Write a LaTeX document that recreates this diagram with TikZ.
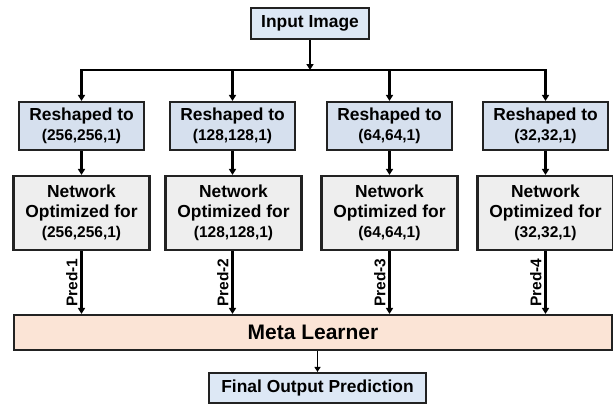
\documentclass[tikz,border=0pt]{standalone}
\usepackage{fontspec}
\setmainfont{Liberation Sans}
\usetikzlibrary{arrows.meta}
\definecolor{inblue}{HTML}{DDE8F5}
\definecolor{reblue}{HTML}{D6E0EE}
\definecolor{netgray}{HTML}{EEEEEE}
\definecolor{metapeach}{HTML}{FBE4D6}
\definecolor{edge}{HTML}{222222}
\newcommand{\numf}{\fontsize{15.5}{20}\selectfont}
\begin{document}
\begin{tikzpicture}[x=1pt,y=-1pt,
  box/.style={draw=edge,line width=2.1pt,align=center,inner sep=0pt,
    font=\bfseries\fontsize{17.4}{20}\selectfont},
  inbox/.style={box,fill=inblue},
  rebox/.style={box,fill=reblue,minimum width=125pt,minimum height=48pt},
  netbox/.style={box,fill=netgray,minimum width=136pt,minimum height=74pt},
  metabox/.style={box,fill=metapeach,font=\bfseries\fontsize{21}{24}\selectfont},
  arr/.style={line width=2.1pt,draw=black,-{Triangle[length=6pt,width=7pt]}},
  thinarr/.style={line width=1.3pt,draw=black,-{Triangle[length=5pt,width=6pt]}},
  predlab/.style={rotate=90,anchor=south,inner sep=3pt,font=\bfseries\fontsize{15.5}{17}\selectfont}
]
\useasboundingbox (0,0) rectangle (613,405);
\fill[white] (0,0) rectangle (613,405);

\node[inbox,minimum width=118pt,minimum height=31pt] (in) at (310,23.5) {Input Image};

\node[rebox] (r1) at (81.5,126) {Reshaped to\\{\numf (256,256,1)}};
\node[rebox] (r2) at (232.5,126) {Reshaped to\\{\numf (128,128,1)}};
\node[rebox] (r3) at (389.5,126) {Reshaped to\\{\numf (64,64,1)}};
\node[rebox] (r4) at (545.5,126) {Reshaped to\\{\numf (32,32,1)}};

\node[netbox] (n1) at (81.5,213) {Network\\Optimized for\\{\numf (256,256,1)}};
\node[netbox] (n2) at (233.5,213) {Network\\Optimized for\\{\numf (128,128,1)}};
\node[netbox] (n3) at (389.5,213) {Network\\Optimized for\\{\numf (64,64,1)}};
\node[netbox] (n4) at (545.5,213) {Network\\Optimized for\\{\numf (32,32,1)}};

\node[metabox,minimum width=598pt,minimum height=35pt] (meta) at (313,332.5) {Meta Learner};

\node[inbox,minimum width=217pt,minimum height=30pt] (fin) at (317.5,388) {Final Output Prediction};

% bus
\coordinate (busL) at (81.5,70);
\coordinate (busR) at (545.5,70);
\coordinate (busM) at (310,70);
\draw[line width=2.1pt,line cap=rect] (busL) -- (busR);
\draw[arr] (in.south) -- (busM);
\foreach \i in {1,2,3,4}{
  \draw[arr] (r\i.north |- busL) -- (r\i.north);
  \draw[arr] (r\i.south) -- (n\i.north -| r\i.south);
}
\foreach \i in {1,2,3,4}{
  \draw[arr] (n\i.south -| r\i.south) -- (meta.north -| r\i.south)
    node[midway,predlab] {Pred-\i};
}
\draw[thinarr] (meta.south -| fin.north) -- (fin.north);
\end{tikzpicture}
\end{document}
